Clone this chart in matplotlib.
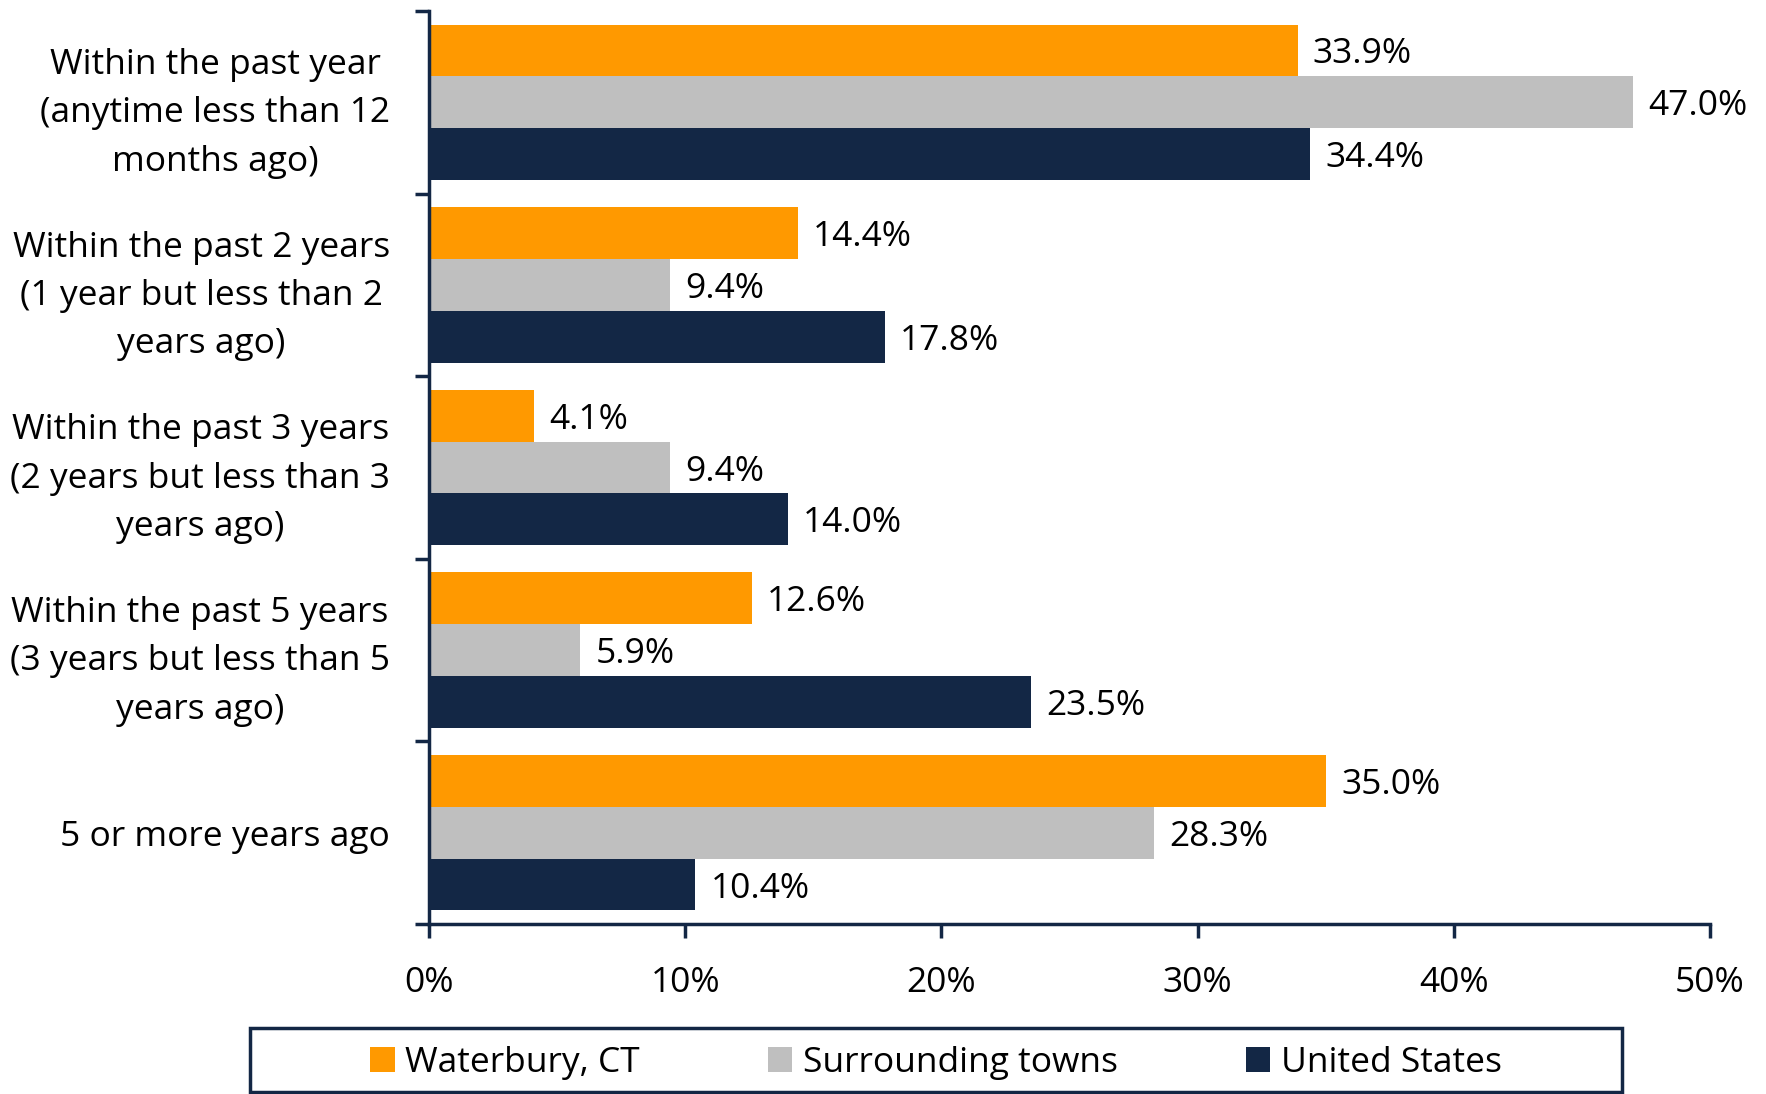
import matplotlib.pyplot as plt
from matplotlib.patches import Rectangle
import numpy as np

plt.rcParams['font.family'] = ['Open Sans', 'DejaVu Sans']

categories = ['Within the past year\n(anytime less than 12\nmonths ago)',
              'Within the past 2 years\n(1 year but less than 2\nyears ago)',
              'Within the past 3 years\n(2 years but less than 3\nyears ago)',
              'Within the past 5 years\n(3 years but less than 5\nyears ago)',
              '5 or more years ago']
series = ['Waterbury, CT', 'Surrounding towns', 'United States']
waterbury = [33.9, 14.4, 4.1, 12.6, 35.0]
surrounding = [47.0, 9.4, 9.4, 5.9, 28.3]
united_states = [34.4, 17.8, 14.0, 23.5, 10.4]
colors = ['#FF9900', '#BFBFBF', '#132745']
navy = '#132745'

fig = plt.figure(figsize=(17.66, 10.94), dpi=100)
ax = fig.add_axes([0.2429, 0.1554, 0.7254, 0.8345])

y = np.arange(len(categories))
h = 0.284
fs = 25.5
for i, (vals, name) in enumerate(zip([waterbury, surrounding, united_states], series)):
    bars = ax.barh(y + (i - 1) * h, vals, height=h, color=colors[i], label=name)
    labs = ax.bar_label(bars, labels=['%.1f%%' % v for v in vals], padding=11, fontsize=fs)
    for t in labs:
        t.set_verticalalignment('center_baseline')

ax.set_xlim(0, 50)
ax.set_ylim(4.5, -0.5)
ax.set_xticks(np.arange(0, 51, 10))
ax.set_xticklabels(['%d%%' % v for v in range(0, 51, 10)], fontsize=fs)
ax.set_yticks(y)
ax.set_yticklabels(categories, fontsize=fs, multialignment='center', linespacing=1.55,
                   va='center_baseline')
ax.set_yticks(np.arange(-0.5, 5, 1), minor=True)
ax.tick_params(axis='y', which='major', length=0, pad=28)
ax.tick_params(axis='y', which='minor', length=10, width=2.5, color=navy)
ax.tick_params(axis='x', length=10, width=2.5, color=navy, pad=20)

for s in ['top', 'right']:
    ax.spines[s].set_visible(False)
for s in ['left', 'bottom']:
    ax.spines[s].set_color(navy)
    ax.spines[s].set_linewidth(2.5)

# legend box
fig.patches.append(Rectangle((250 / 1766, 2 / 1094), 1372 / 1766, 64 / 1094,
                             transform=fig.transFigure, fill=False,
                             edgecolor=navy, linewidth=2.5))
fig.legend(loc='center', bbox_to_anchor=(936 / 1766, 31 / 1094), ncol=3,
           frameon=False, fontsize=fs, handlelength=0.7, handleheight=0.7,
           handletextpad=0.3, columnspacing=3.6)

fig.savefig('out.png')
